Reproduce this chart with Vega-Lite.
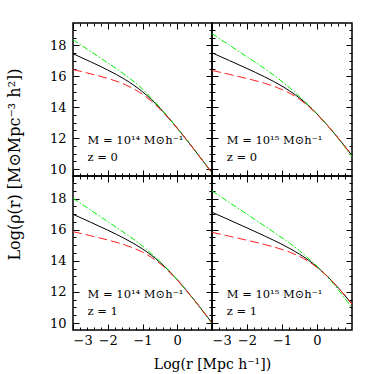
{
  "$schema": "https://vega.github.io/schema/vega-lite/v6.json",
  "padding": {"left": 5, "top": 21, "right": 5, "bottom": 2},
  "background": "white",
  "config": {
    "view": {"stroke": "#000", "strokeWidth": 1.5},
    "axis": {"domain": false, "grid": false, "tickColor": "#000", "tickWidth": 1, "labelColor": "#000", "titleColor": "#000", "labelFont": "DejaVu Serif", "titleFont": "DejaVu Serif", "labelFontSize": 13, "titleFontSize": 14, "titleFontWeight": "normal", "zindex": 1},
    "text": {"font": "DejaVu Serif"}
  },
  "datasets": {
    "prof": [
      {"p":"A","m":"k","x":-3,"y":17.460},{"p":"A","m":"k","x":-2.5,"y":16.947},{"p":"A","m":"k","x":-2,"y":16.407},{"p":"A","m":"k","x":-1.5,"y":15.791},{"p":"A","m":"k","x":-1,"y":15.001},{"p":"A","m":"k","x":-0.75,"y":14.508},{"p":"A","m":"k","x":-0.5,"y":13.945},{"p":"A","m":"k","x":-0.25,"y":13.321},{"p":"A","m":"k","x":0,"y":12.651},{"p":"A","m":"k","x":0.25,"y":11.950},{"p":"A","m":"k","x":0.5,"y":11.228},{"p":"A","m":"k","x":0.75,"y":10.494},{"p":"A","m":"k","x":1,"y":9.754},
      {"p":"A","m":"g","x":-3,"y":18.370},{"p":"A","m":"g","x":-2.5,"y":17.619},{"p":"A","m":"g","x":-2,"y":16.865},{"p":"A","m":"g","x":-1.5,"y":16.090},{"p":"A","m":"g","x":-1,"y":15.171},{"p":"A","m":"g","x":-0.75,"y":14.598},{"p":"A","m":"g","x":-0.5,"y":13.985},{"p":"A","m":"g","x":-0.25,"y":13.336},{"p":"A","m":"g","x":0,"y":12.651},{"p":"A","m":"g","x":0.25,"y":11.945},{"p":"A","m":"g","x":0.5,"y":11.218},{"p":"A","m":"g","x":0.75,"y":10.474},{"p":"A","m":"g","x":1,"y":9.724},
      {"p":"A","m":"r","x":-3,"y":16.433},{"p":"A","m":"r","x":-2.5,"y":16.166},{"p":"A","m":"r","x":-2,"y":15.863},{"p":"A","m":"r","x":-1.5,"y":15.462},{"p":"A","m":"r","x":-1,"y":14.839},{"p":"A","m":"r","x":-0.75,"y":14.403},{"p":"A","m":"r","x":-0.5,"y":13.880},{"p":"A","m":"r","x":-0.25,"y":13.283},{"p":"A","m":"r","x":0,"y":12.629},{"p":"A","m":"r","x":0.25,"y":11.937},{"p":"A","m":"r","x":0.5,"y":11.221},{"p":"A","m":"r","x":0.75,"y":10.490},{"p":"A","m":"r","x":1,"y":9.752},
      {"p":"B","m":"k","x":-3,"y":17.520},{"p":"B","m":"k","x":-2.5,"y":17.017},{"p":"B","m":"k","x":-2,"y":16.505},{"p":"B","m":"k","x":-1.5,"y":15.969},{"p":"B","m":"k","x":-1,"y":15.364},{"p":"B","m":"k","x":-0.75,"y":15.008},{"p":"B","m":"k","x":-0.5,"y":14.597},{"p":"B","m":"k","x":-0.25,"y":14.118},{"p":"B","m":"k","x":0,"y":13.569},{"p":"B","m":"k","x":0.25,"y":12.956},{"p":"B","m":"k","x":0.5,"y":12.294},{"p":"B","m":"k","x":0.75,"y":11.598},{"p":"B","m":"k","x":1,"y":10.880},
      {"p":"B","m":"g","x":-3,"y":18.760},{"p":"B","m":"g","x":-2.5,"y":18.010},{"p":"B","m":"g","x":-2,"y":17.259},{"p":"B","m":"g","x":-1.5,"y":16.504},{"p":"B","m":"g","x":-1,"y":15.664},{"p":"B","m":"g","x":-0.75,"y":15.198},{"p":"B","m":"g","x":-0.5,"y":14.697},{"p":"B","m":"g","x":-0.25,"y":14.158},{"p":"B","m":"g","x":0,"y":13.579},{"p":"B","m":"g","x":0.25,"y":12.956},{"p":"B","m":"g","x":0.5,"y":12.274},{"p":"B","m":"g","x":0.75,"y":11.558},{"p":"B","m":"g","x":1,"y":10.810},
      {"p":"B","m":"r","x":-3,"y":16.379},{"p":"B","m":"r","x":-2.5,"y":16.124},{"p":"B","m":"r","x":-2,"y":15.856},{"p":"B","m":"r","x":-1.5,"y":15.552},{"p":"B","m":"r","x":-1,"y":15.147},{"p":"B","m":"r","x":-0.75,"y":14.868},{"p":"B","m":"r","x":-0.5,"y":14.515},{"p":"B","m":"r","x":-0.25,"y":14.074},{"p":"B","m":"r","x":0,"y":13.547},{"p":"B","m":"r","x":0.25,"y":12.945},{"p":"B","m":"r","x":0.5,"y":12.289},{"p":"B","m":"r","x":0.75,"y":11.595},{"p":"B","m":"r","x":1,"y":10.878},
      {"p":"C","m":"k","x":-3,"y":16.990},{"p":"C","m":"k","x":-2.5,"y":16.484},{"p":"C","m":"k","x":-2,"y":15.967},{"p":"C","m":"k","x":-1.5,"y":15.413},{"p":"C","m":"k","x":-1,"y":14.763},{"p":"C","m":"k","x":-0.75,"y":14.369},{"p":"C","m":"k","x":-0.5,"y":13.910},{"p":"C","m":"k","x":-0.25,"y":13.380},{"p":"C","m":"k","x":0,"y":12.784},{"p":"C","m":"k","x":0.25,"y":12.134},{"p":"C","m":"k","x":0.5,"y":11.446},{"p":"C","m":"k","x":0.75,"y":10.733},{"p":"C","m":"k","x":1,"y":10.004},
      {"p":"C","m":"g","x":-3,"y":18.020},{"p":"C","m":"g","x":-2.5,"y":17.270},{"p":"C","m":"g","x":-2,"y":16.519},{"p":"C","m":"g","x":-1.5,"y":15.762},{"p":"C","m":"g","x":-1,"y":14.953},{"p":"C","m":"g","x":-0.75,"y":14.469},{"p":"C","m":"g","x":-0.5,"y":13.955},{"p":"C","m":"g","x":-0.25,"y":13.395},{"p":"C","m":"g","x":0,"y":12.784},{"p":"C","m":"g","x":0.25,"y":12.124},{"p":"C","m":"g","x":0.5,"y":11.426},{"p":"C","m":"g","x":0.75,"y":10.703},{"p":"C","m":"g","x":1,"y":9.964},
      {"p":"C","m":"r","x":-3,"y":15.870},{"p":"C","m":"r","x":-2.5,"y":15.612},{"p":"C","m":"r","x":-2,"y":15.337},{"p":"C","m":"r","x":-1.5,"y":15.012},{"p":"C","m":"r","x":-1,"y":14.553},{"p":"C","m":"r","x":-0.75,"y":14.231},{"p":"C","m":"r","x":-0.5,"y":13.824},{"p":"C","m":"r","x":-0.25,"y":13.330},{"p":"C","m":"r","x":0,"y":12.755},{"p":"C","m":"r","x":0.25,"y":12.118},{"p":"C","m":"r","x":0.5,"y":11.437},{"p":"C","m":"r","x":0.75,"y":10.728},{"p":"C","m":"r","x":1,"y":10.001},
      {"p":"D","m":"k","x":-3,"y":17.120},{"p":"D","m":"k","x":-2.5,"y":16.619},{"p":"D","m":"k","x":-2,"y":16.114},{"p":"D","m":"k","x":-1.5,"y":15.599},{"p":"D","m":"k","x":-1,"y":15.054},{"p":"D","m":"k","x":-0.75,"y":14.756},{"p":"D","m":"k","x":-0.5,"y":14.426},{"p":"D","m":"k","x":-0.25,"y":14.050},{"p":"D","m":"k","x":0,"y":13.613},{"p":"D","m":"k","x":0.25,"y":13.106},{"p":"D","m":"k","x":0.5,"y":12.530},{"p":"D","m":"k","x":0.75,"y":11.895},{"p":"D","m":"k","x":1,"y":11.218},
      {"p":"D","m":"g","x":-3,"y":18.490},{"p":"D","m":"g","x":-2.5,"y":17.740},{"p":"D","m":"g","x":-2,"y":16.990},{"p":"D","m":"g","x":-1.5,"y":16.238},{"p":"D","m":"g","x":-1,"y":15.477},{"p":"D","m":"g","x":-0.75,"y":15.084},{"p":"D","m":"g","x":-0.5,"y":14.640},{"p":"D","m":"g","x":-0.25,"y":14.160},{"p":"D","m":"g","x":0,"y":13.650},{"p":"D","m":"g","x":0.25,"y":13.090},{"p":"D","m":"g","x":0.5,"y":12.440},{"p":"D","m":"g","x":0.75,"y":11.720},{"p":"D","m":"g","x":1,"y":10.990},
      {"p":"D","m":"r","x":-3,"y":15.830},{"p":"D","m":"r","x":-2.5,"y":15.578},{"p":"D","m":"r","x":-2,"y":15.320},{"p":"D","m":"r","x":-1.5,"y":15.047},{"p":"D","m":"r","x":-1,"y":14.727},{"p":"D","m":"r","x":-0.75,"y":14.527},{"p":"D","m":"r","x":-0.5,"y":14.280},{"p":"D","m":"r","x":-0.25,"y":13.968},{"p":"D","m":"r","x":0,"y":13.573},{"p":"D","m":"r","x":0.25,"y":13.090},{"p":"D","m":"r","x":0.5,"y":12.525},{"p":"D","m":"r","x":0.75,"y":11.895},{"p":"D","m":"r","x":1,"y":11.219}
    ],
    "notes": [
      {"p":"A","t":"M  =  10¹⁴  M⊙h⁻¹\nz  =  0"},
      {"p":"B","t":"M  =  10¹⁵  M⊙h⁻¹\nz  =  0"},
      {"p":"C","t":"M  =  10¹⁴  M⊙h⁻¹\nz  =  1"},
      {"p":"D","t":"M  =  10¹⁵  M⊙h⁻¹\nz  =  1"}
    ]
  },
  "data": {"name": "prof"},
  "columns": 2,
  "spacing": 0,
  "bounds": "flush",
  "concat": [
    {
      "width": 139, "height": 153,
      "resolve": {"axis": {"x": "independent", "y": "independent"}},
      "layer": [
        {"transform": [{"filter": "datum.p === 'A' && datum.m === 'k'"}],
         "mark": {"type": "line", "color": "#000", "strokeWidth": 1, "interpolate": "monotone"},
         "encoding": {
           "x": {"field": "x", "type": "quantitative", "scale": {"domain": [-3, 1], "nice": false, "zero": false}, "axis": {"orient": "bottom", "values": [-3, -2, -1, 0], "tickSize": -6, "labels": false, "title": null}},
           "y": {"field": "y", "type": "quantitative", "scale": {"domain": [9.55, 19.45], "nice": false, "zero": false}, "axis": {"orient": "left", "values": [10, 12, 14, 16, 18], "tickSize": -6, "labelPadding": 13, "title": null}}}},
        {"transform": [{"filter": "datum.p === 'A' && datum.m === 'g'"}],
         "mark": {"type": "line", "color": "#00ee00", "strokeWidth": 1, "strokeDash": [6, 2, 1.5, 2], "interpolate": "monotone"},
         "encoding": {
           "x": {"field": "x", "type": "quantitative", "axis": {"orient": "top", "values": [-3, -2, -1, 0], "tickSize": -6, "labels": false, "title": null}},
           "y": {"field": "y", "type": "quantitative", "axis": {"orient": "right", "values": [10, 12, 14, 16, 18], "tickSize": -6, "labels": false, "title": null}}}},
        {"transform": [{"filter": "datum.p === 'A' && datum.m === 'r'"}],
         "mark": {"type": "line", "color": "#ff2020", "strokeWidth": 1, "strokeDash": [9, 4], "interpolate": "monotone"},
         "encoding": {
           "x": {"field": "x", "type": "quantitative", "axis": {"orient": "bottom", "values": [-2.8, -2.6, -2.4, -2.2, -1.8, -1.6, -1.4, -1.2, -0.8, -0.6, -0.4, -0.2, 0.2, 0.4, 0.6, 0.8], "tickSize": -3, "labels": false, "title": null}},
           "y": {"field": "y", "type": "quantitative", "axis": {"orient": "left", "values": [10.5, 11, 11.5, 12.5, 13, 13.5, 14.5, 15, 15.5, 16.5, 17, 17.5, 18.5, 19], "tickSize": -3, "labels": false, "title": null}}}},
        {"data": {"name": "notes"},
         "transform": [{"filter": "datum.p === 'A'"}],
         "mark": {"type": "text", "align": "left", "baseline": "alphabetic", "fontSize": 11.5, "lineBreak": "\n", "lineHeight": 17, "color": "#000"},
         "encoding": {
           "text": {"field": "t"},
           "x": {"datum": -2.58, "type": "quantitative", "axis": {"orient": "top", "values": [-2.8, -2.6, -2.4, -2.2, -1.8, -1.6, -1.4, -1.2, -0.8, -0.6, -0.4, -0.2, 0.2, 0.4, 0.6, 0.8], "tickSize": -3, "labels": false, "title": null}},
           "y": {"datum": 11.6, "type": "quantitative", "axis": {"orient": "right", "values": [10.5, 11, 11.5, 12.5, 13, 13.5, 14.5, 15, 15.5, 16.5, 17, 17.5, 18.5, 19], "tickSize": -3, "labels": false, "title": null}}}}
      ]
    },
    {
      "width": 140, "height": 153,
      "resolve": {"axis": {"x": "independent", "y": "independent"}},
      "layer": [
        {"transform": [{"filter": "datum.p === 'B' && datum.m === 'k'"}],
         "mark": {"type": "line", "color": "#000", "strokeWidth": 1, "interpolate": "monotone"},
         "encoding": {
           "x": {"field": "x", "type": "quantitative", "scale": {"domain": [-3, 1], "nice": false, "zero": false}, "axis": {"orient": "bottom", "values": [-3, -2, -1, 0], "tickSize": -6, "labels": false, "title": null}},
           "y": {"field": "y", "type": "quantitative", "scale": {"domain": [9.55, 19.45], "nice": false, "zero": false}, "axis": {"orient": "left", "values": [10, 12, 14, 16, 18], "tickSize": -6, "labels": false, "title": null}}}},
        {"transform": [{"filter": "datum.p === 'B' && datum.m === 'g'"}],
         "mark": {"type": "line", "color": "#00ee00", "strokeWidth": 1, "strokeDash": [6, 2, 1.5, 2], "interpolate": "monotone"},
         "encoding": {
           "x": {"field": "x", "type": "quantitative", "axis": {"orient": "top", "values": [-3, -2, -1, 0], "tickSize": -6, "labels": false, "title": null}},
           "y": {"field": "y", "type": "quantitative", "axis": {"orient": "right", "values": [10, 12, 14, 16, 18], "tickSize": -6, "labels": false, "title": null}}}},
        {"transform": [{"filter": "datum.p === 'B' && datum.m === 'r'"}],
         "mark": {"type": "line", "color": "#ff2020", "strokeWidth": 1, "strokeDash": [9, 4], "interpolate": "monotone"},
         "encoding": {
           "x": {"field": "x", "type": "quantitative", "axis": {"orient": "bottom", "values": [-2.8, -2.6, -2.4, -2.2, -1.8, -1.6, -1.4, -1.2, -0.8, -0.6, -0.4, -0.2, 0.2, 0.4, 0.6, 0.8], "tickSize": -3, "labels": false, "title": null}},
           "y": {"field": "y", "type": "quantitative", "axis": {"orient": "left", "values": [10.5, 11, 11.5, 12.5, 13, 13.5, 14.5, 15, 15.5, 16.5, 17, 17.5, 18.5, 19], "tickSize": -3, "labels": false, "title": null}}}},
        {"data": {"name": "notes"},
         "transform": [{"filter": "datum.p === 'B'"}],
         "mark": {"type": "text", "align": "left", "baseline": "alphabetic", "fontSize": 11.5, "lineBreak": "\n", "lineHeight": 17, "color": "#000"},
         "encoding": {
           "text": {"field": "t"},
           "x": {"datum": -2.58, "type": "quantitative", "axis": {"orient": "top", "values": [-2.8, -2.6, -2.4, -2.2, -1.8, -1.6, -1.4, -1.2, -0.8, -0.6, -0.4, -0.2, 0.2, 0.4, 0.6, 0.8], "tickSize": -3, "labels": false, "title": null}},
           "y": {"datum": 11.6, "type": "quantitative", "axis": {"orient": "right", "values": [10.5, 11, 11.5, 12.5, 13, 13.5, 14.5, 15, 15.5, 16.5, 17, 17.5, 18.5, 19], "tickSize": -3, "labels": false, "title": null}}}}
      ]
    },
    {
      "width": 139, "height": 154,
      "resolve": {"axis": {"x": "independent", "y": "independent"}},
      "layer": [
        {"transform": [{"filter": "datum.p === 'C' && datum.m === 'k'"}],
         "mark": {"type": "line", "color": "#000", "strokeWidth": 1, "interpolate": "monotone"},
         "encoding": {
           "x": {"field": "x", "type": "quantitative", "scale": {"domain": [-3, 1], "nice": false, "zero": false}, "axis": {"orient": "bottom", "values": [-3, -2, -1, 0], "tickSize": -6, "labelPadding": 10, "title": "Log(r [Mpc h⁻¹])", "titleX": 139, "titlePadding": 10}},
           "y": {"field": "y", "type": "quantitative", "scale": {"domain": [9.55, 19.45], "nice": false, "zero": false}, "axis": {"orient": "left", "values": [10, 12, 14, 16, 18], "tickSize": -6, "labelPadding": 13, "title": "Log(ρ(r)  [M⊙Mpc⁻³  h²])", "titleY": -12, "titleAlign": "center", "titlePadding": 27, "titleFontSize": 16}}}},
        {"transform": [{"filter": "datum.p === 'C' && datum.m === 'g'"}],
         "mark": {"type": "line", "color": "#00ee00", "strokeWidth": 1, "strokeDash": [6, 2, 1.5, 2], "interpolate": "monotone"},
         "encoding": {
           "x": {"field": "x", "type": "quantitative", "axis": {"orient": "top", "values": [-3, -2, -1, 0], "tickSize": -6, "labels": false, "title": null}},
           "y": {"field": "y", "type": "quantitative", "axis": {"orient": "right", "values": [10, 12, 14, 16, 18], "tickSize": -6, "labels": false, "title": null}}}},
        {"transform": [{"filter": "datum.p === 'C' && datum.m === 'r'"}],
         "mark": {"type": "line", "color": "#ff2020", "strokeWidth": 1, "strokeDash": [9, 4], "interpolate": "monotone"},
         "encoding": {
           "x": {"field": "x", "type": "quantitative", "axis": {"orient": "bottom", "values": [-2.8, -2.6, -2.4, -2.2, -1.8, -1.6, -1.4, -1.2, -0.8, -0.6, -0.4, -0.2, 0.2, 0.4, 0.6, 0.8], "tickSize": -3, "labels": false, "title": null}},
           "y": {"field": "y", "type": "quantitative", "axis": {"orient": "left", "values": [10.5, 11, 11.5, 12.5, 13, 13.5, 14.5, 15, 15.5, 16.5, 17, 17.5, 18.5, 19], "tickSize": -3, "labels": false, "title": null}}}},
        {"data": {"name": "notes"},
         "transform": [{"filter": "datum.p === 'C'"}],
         "mark": {"type": "text", "align": "left", "baseline": "alphabetic", "fontSize": 11.5, "lineBreak": "\n", "lineHeight": 17, "color": "#000"},
         "encoding": {
           "text": {"field": "t"},
           "x": {"datum": -2.58, "type": "quantitative", "axis": {"orient": "top", "values": [-2.8, -2.6, -2.4, -2.2, -1.8, -1.6, -1.4, -1.2, -0.8, -0.6, -0.4, -0.2, 0.2, 0.4, 0.6, 0.8], "tickSize": -3, "labels": false, "title": null}},
           "y": {"datum": 11.6, "type": "quantitative", "axis": {"orient": "right", "values": [10.5, 11, 11.5, 12.5, 13, 13.5, 14.5, 15, 15.5, 16.5, 17, 17.5, 18.5, 19], "tickSize": -3, "labels": false, "title": null}}}}
      ]
    },
    {
      "width": 140, "height": 154,
      "resolve": {"axis": {"x": "independent", "y": "independent"}},
      "layer": [
        {"transform": [{"filter": "datum.p === 'D' && datum.m === 'k'"}],
         "mark": {"type": "line", "color": "#000", "strokeWidth": 1, "interpolate": "monotone"},
         "encoding": {
           "x": {"field": "x", "type": "quantitative", "scale": {"domain": [-3, 1], "nice": false, "zero": false}, "axis": {"orient": "bottom", "values": [-3, -2, -1, 0], "tickSize": -6, "labelPadding": 10, "title": null}},
           "y": {"field": "y", "type": "quantitative", "scale": {"domain": [9.55, 19.45], "nice": false, "zero": false}, "axis": {"orient": "left", "values": [10, 12, 14, 16, 18], "tickSize": -6, "labels": false, "title": null}}}},
        {"transform": [{"filter": "datum.p === 'D' && datum.m === 'g'"}],
         "mark": {"type": "line", "color": "#00ee00", "strokeWidth": 1, "strokeDash": [6, 2, 1.5, 2], "interpolate": "monotone"},
         "encoding": {
           "x": {"field": "x", "type": "quantitative", "axis": {"orient": "top", "values": [-3, -2, -1, 0], "tickSize": -6, "labels": false, "title": null}},
           "y": {"field": "y", "type": "quantitative", "axis": {"orient": "right", "values": [10, 12, 14, 16, 18], "tickSize": -6, "labels": false, "title": null}}}},
        {"transform": [{"filter": "datum.p === 'D' && datum.m === 'r'"}],
         "mark": {"type": "line", "color": "#ff2020", "strokeWidth": 1, "strokeDash": [9, 4], "interpolate": "monotone"},
         "encoding": {
           "x": {"field": "x", "type": "quantitative", "axis": {"orient": "bottom", "values": [-2.8, -2.6, -2.4, -2.2, -1.8, -1.6, -1.4, -1.2, -0.8, -0.6, -0.4, -0.2, 0.2, 0.4, 0.6, 0.8], "tickSize": -3, "labels": false, "title": null}},
           "y": {"field": "y", "type": "quantitative", "axis": {"orient": "left", "values": [10.5, 11, 11.5, 12.5, 13, 13.5, 14.5, 15, 15.5, 16.5, 17, 17.5, 18.5, 19], "tickSize": -3, "labels": false, "title": null}}}},
        {"data": {"name": "notes"},
         "transform": [{"filter": "datum.p === 'D'"}],
         "mark": {"type": "text", "align": "left", "baseline": "alphabetic", "fontSize": 11.5, "lineBreak": "\n", "lineHeight": 17, "color": "#000"},
         "encoding": {
           "text": {"field": "t"},
           "x": {"datum": -2.58, "type": "quantitative", "axis": {"orient": "top", "values": [-2.8, -2.6, -2.4, -2.2, -1.8, -1.6, -1.4, -1.2, -0.8, -0.6, -0.4, -0.2, 0.2, 0.4, 0.6, 0.8], "tickSize": -3, "labels": false, "title": null}},
           "y": {"datum": 11.6, "type": "quantitative", "axis": {"orient": "right", "values": [10.5, 11, 11.5, 12.5, 13, 13.5, 14.5, 15, 15.5, 16.5, 17, 17.5, 18.5, 19], "tickSize": -3, "labels": false, "title": null}}}}
      ]
    }
  ]
}
